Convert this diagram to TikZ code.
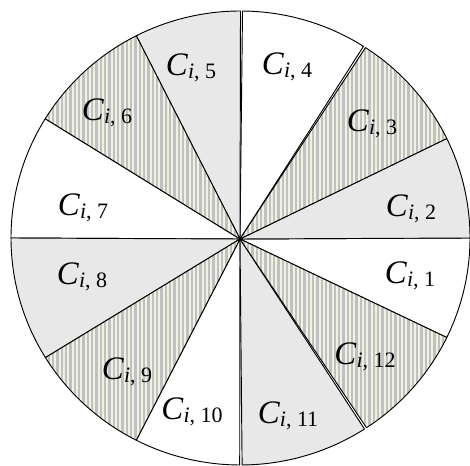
\documentclass[tikz,border=0pt]{standalone}
\usepackage{fontspec}
\setmainfont{Liberation Serif}
\usetikzlibrary{calc}
\definecolor{secgray}{HTML}{E8E8E8}
\definecolor{stripegray}{HTML}{C0C0C0}
\definecolor{stripecream}{HTML}{F2F2E2}
\newcommand\mysector[3]{\path[#3] (0,0) -- ([shift={(0.5,1)}]#1:229.5 and 227) arc[start angle=#1, end angle=#2, x radius=229.5, y radius=227] -- cycle;}
\newcommand\stripesector[2]{%
  \begin{scope}
    \mysector{#1}{#2}{clip}
    \fill[stripecream] (-240,-240) rectangle (240,240);
    \foreach \xx in {-240,-235.667,...,240} \fill[stripegray] (\xx,-240) rectangle ++(2.2,480);
  \end{scope}
  \mysector{#1}{#2}{outline}}
\newcommand\clab[1]{\textit{C}\raisebox{-2.6pt}{\fontsize{16.5pt}{16.5pt}\selectfont\textit{i}, #1}}
\begin{document}
\begin{tikzpicture}[x=0.75pt,y=0.75pt,
  outline/.style={draw=black,line width=0.7pt,line join=round},
  graysec/.style={outline,fill=secgray},
  whitesec/.style={outline,fill=white},
  lab/.style={inner sep=0pt,font=\fontsize{24.6pt}{24.6pt}\selectfont}]
\fill[white] (-240,-227) rectangle (230,239);
\useasboundingbox (-240,-227) rectangle (230,239);
% white sectors
\mysector{334}{360}{whitesec}
\mysector{57.6}{89.5}{whitesec}
\mysector{148.3}{180}{whitesec}
\mysector{243}{269.8}{whitesec}
% gray sectors
\mysector{0}{26}{graysec}
\mysector{90}{117}{graysec}
\mysector{180}{211.8}{graysec}
\mysector{270.4}{302.7}{graysec}
% striped sectors
\stripesector{26}{57}
\stripesector{117}{148.3}
\stripesector{211.8}{243}
\stripesector{303.3}{334}
% labels
\node[lab] (l1) at (170,-37) {\clab{1}};
\node[lab] (l2) at (171,30) {\clab{2}};
\node[lab] (l3) at (132,115) {\clab{3}};
\node[lab] (l4) at (47,172) {\clab{4}};
\node[lab] (l5) at (-49,171) {\clab{5}};
\node[lab] (l6) at (-133,126) {\clab{6}};
\node[lab] (l7) at (-157,31) {\clab{7}};
\node[lab] (l8) at (-158,-38) {\clab{8}};
\node[lab] (l9) at (-113,-133) {\clab{9}};
\node[lab] (l10) at (-48,-173) {\clab{10}};
\node[lab] (l11) at (48,-177) {\clab{11}};
\node[lab] (l12) at (125,-118) {\clab{12}};
\end{tikzpicture}
\end{document}
